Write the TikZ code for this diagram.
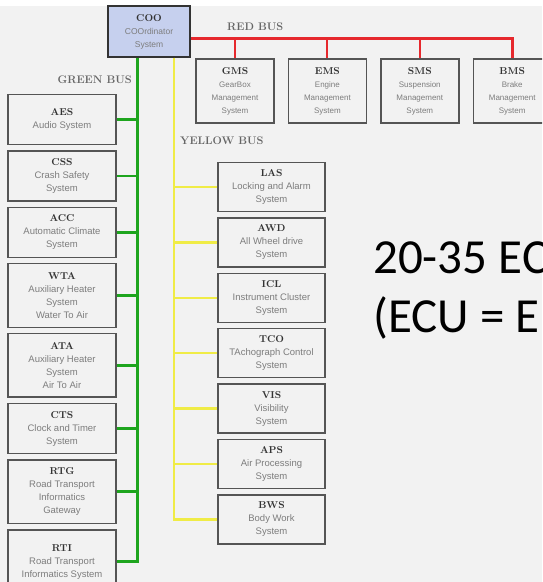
\documentclass[tikz,border=0pt]{standalone}
\usepackage{fontspec}
\setsansfont{Liberation Sans}
\newfontfamily\bigfont{Carlito}
\usetikzlibrary{positioning}
\definecolor{ecubg}{RGB}{242,242,242}
\definecolor{ecuframe}{RGB}{85,85,85}
\definecolor{ecutext}{RGB}{125,125,125}
\definecolor{cooblue}{RGB}{198,208,238}
\definecolor{busred}{RGB}{230,40,45}
\definecolor{busgreen}{RGB}{30,165,30}
\definecolor{busyellow}{RGB}{240,236,70}
\newcommand{\ecuname}[1]{{\rmfamily\bfseries\fontsize{10}{13}\selectfont\color{black!80}#1}}
\tikzset{
  ecu/.style={draw=ecuframe,line width=1.4pt,fill=ecubg,align=center,inner sep=2pt,minimum width=108pt,minimum height=50pt,text=ecutext,font=\sffamily\fontsize{9.5}{13}\selectfont},
  tall/.style={ecu,minimum height=63.5pt},
  yecu/.style={ecu,minimum width=107pt,minimum height=49pt},
  redecu/.style={ecu,minimum width=78pt,minimum height=64pt,font=\sffamily\fontsize{8}{13}\selectfont},
  coo/.style={ecu,fill=cooblue,draw=black!80,minimum width=82pt,minimum height=51pt,font=\sffamily\fontsize{8.5}{13}\selectfont},
  buslab/.style={font=\bfseries\fontsize{11}{13}\selectfont,text=black!60,inner sep=0pt},
  redbus/.style={draw=busred,line width=3pt},
  greenbus/.style={draw=busgreen,line width=3pt},
  yellowbus/.style={draw=busyellow,line width=2.5pt},
  big/.style={font=\bigfont\fontsize{49}{59}\selectfont,anchor=base west,inner sep=0pt},
}

\begin{document}
\begin{tikzpicture}[x=1pt,y=-1pt]
    \useasboundingbox (0,0) rectangle (542,582);
    \clip (0,0) rectangle (542,582);
    \fill[white] (0,0) rectangle (542,582);
    \fill[ecubg] (0,6) rectangle (542,582);

    % coordinator
    \node[coo] (coo) at (149,31.5) {\ecuname{COO}\\COOrdinator\\System};

    % red bus
    \node[redecu] (gms) at (235,91) {\ecuname{GMS}\\GearBox\\Management\\System};
    \node[redecu,right=13pt of gms] (ems) {\ecuname{EMS}\\Engine\\Management\\System};
    \node[redecu,right=13pt of ems] (sms) {\ecuname{SMS}\\Suspension\\Management\\System};
    \node[redecu,right=13pt of sms] (bms) {\ecuname{BMS}\\Brake\\Management\\System};

    % green bus
    \node[ecu] (aes) at (62,119.5) {\ecuname{AES}\\Audio System};
    \node[ecu,below=5pt of aes] (css) {\ecuname{CSS}\\Crash Safety\\System};
    \node[ecu,below=5pt of css] (acc) {\ecuname{ACC}\\Automatic Climate\\System};
    \node[tall,below=5pt of acc] (wta) {\ecuname{WTA}\\Auxiliary Heater\\System\\Water To Air};
    \node[tall,below=5pt of wta] (ata) {\ecuname{ATA}\\Auxiliary Heater\\System\\Air To Air};
    \node[ecu,below=5pt of ata] (cts) {\ecuname{CTS}\\Clock and Timer\\System};
    \node[tall,below=5pt of cts] (rtg) {\ecuname{RTG}\\Road Transport\\Informatics\\Gateway};
    \node[tall,below=5pt of rtg] (rti) {\ecuname{RTI}\\Road Transport\\Informatics System};

    % yellow bus
    \node[yecu] (las) at (271.5,187) {\ecuname{LAS}\\Locking and Alarm\\System};
    \node[yecu,below=5pt of las] (awd) {\ecuname{AWD}\\All Wheel drive\\System};
    \node[yecu,below=5pt of awd] (icl) {\ecuname{ICL}\\Instrument Cluster\\System};
    \node[yecu,below=5pt of icl] (tco) {\ecuname{TCO}\\TAchograph Control\\System};
    \node[yecu,below=5pt of tco] (vis) {\ecuname{VIS}\\Visibility\\System};
    \node[yecu,below=5pt of vis] (aps) {\ecuname{APS}\\Air Processing\\System};
    \node[yecu,below=5pt of aps] (bws) {\ecuname{BWS}\\Body Work\\System};

    \node[buslab,anchor=west] (redlab) at (227,27) {RED BUS};
    \node[buslab,anchor=east] (greenlab) at (132,80) {GREEN BUS};
    \node[buslab,anchor=west] (yellowlab) at (180,141) {YELLOW BUS};

    \coordinate (rx) at (507,38);
    \coordinate (gx) at (137,57);
    \coordinate (yx) at (174,57);

    \draw[redbus] (coo.east |- rx) -- (bms.north |- rx) -- (bms.north);
    \foreach \n in {gms,ems,sms} \draw[redbus,line width=2pt] (\n.north |- rx) -- (\n.north);

    \draw[greenbus] (coo.south -| gx) -- (rti.east -| gx) -- (rti.east);
    \foreach \n in {aes,css,acc,wta,ata,cts,rtg} \draw[greenbus,line width=2.5pt] (\n.east -| gx) -- (\n.east);

    \draw[yellowbus] (coo.south -| yx) -- (bws.west -| yx) -- (bws.west);
    \foreach \n in {las,awd,icl,tco,vis,aps} \draw[yellowbus] (\n.west -| yx) -- (\n.west);

    \node[big] (ecus) at (373,273) {20-35 EC};
    \node[big] (ecudef) at (373,332) {(ECU = E};
  \end{tikzpicture}
\end{document}
